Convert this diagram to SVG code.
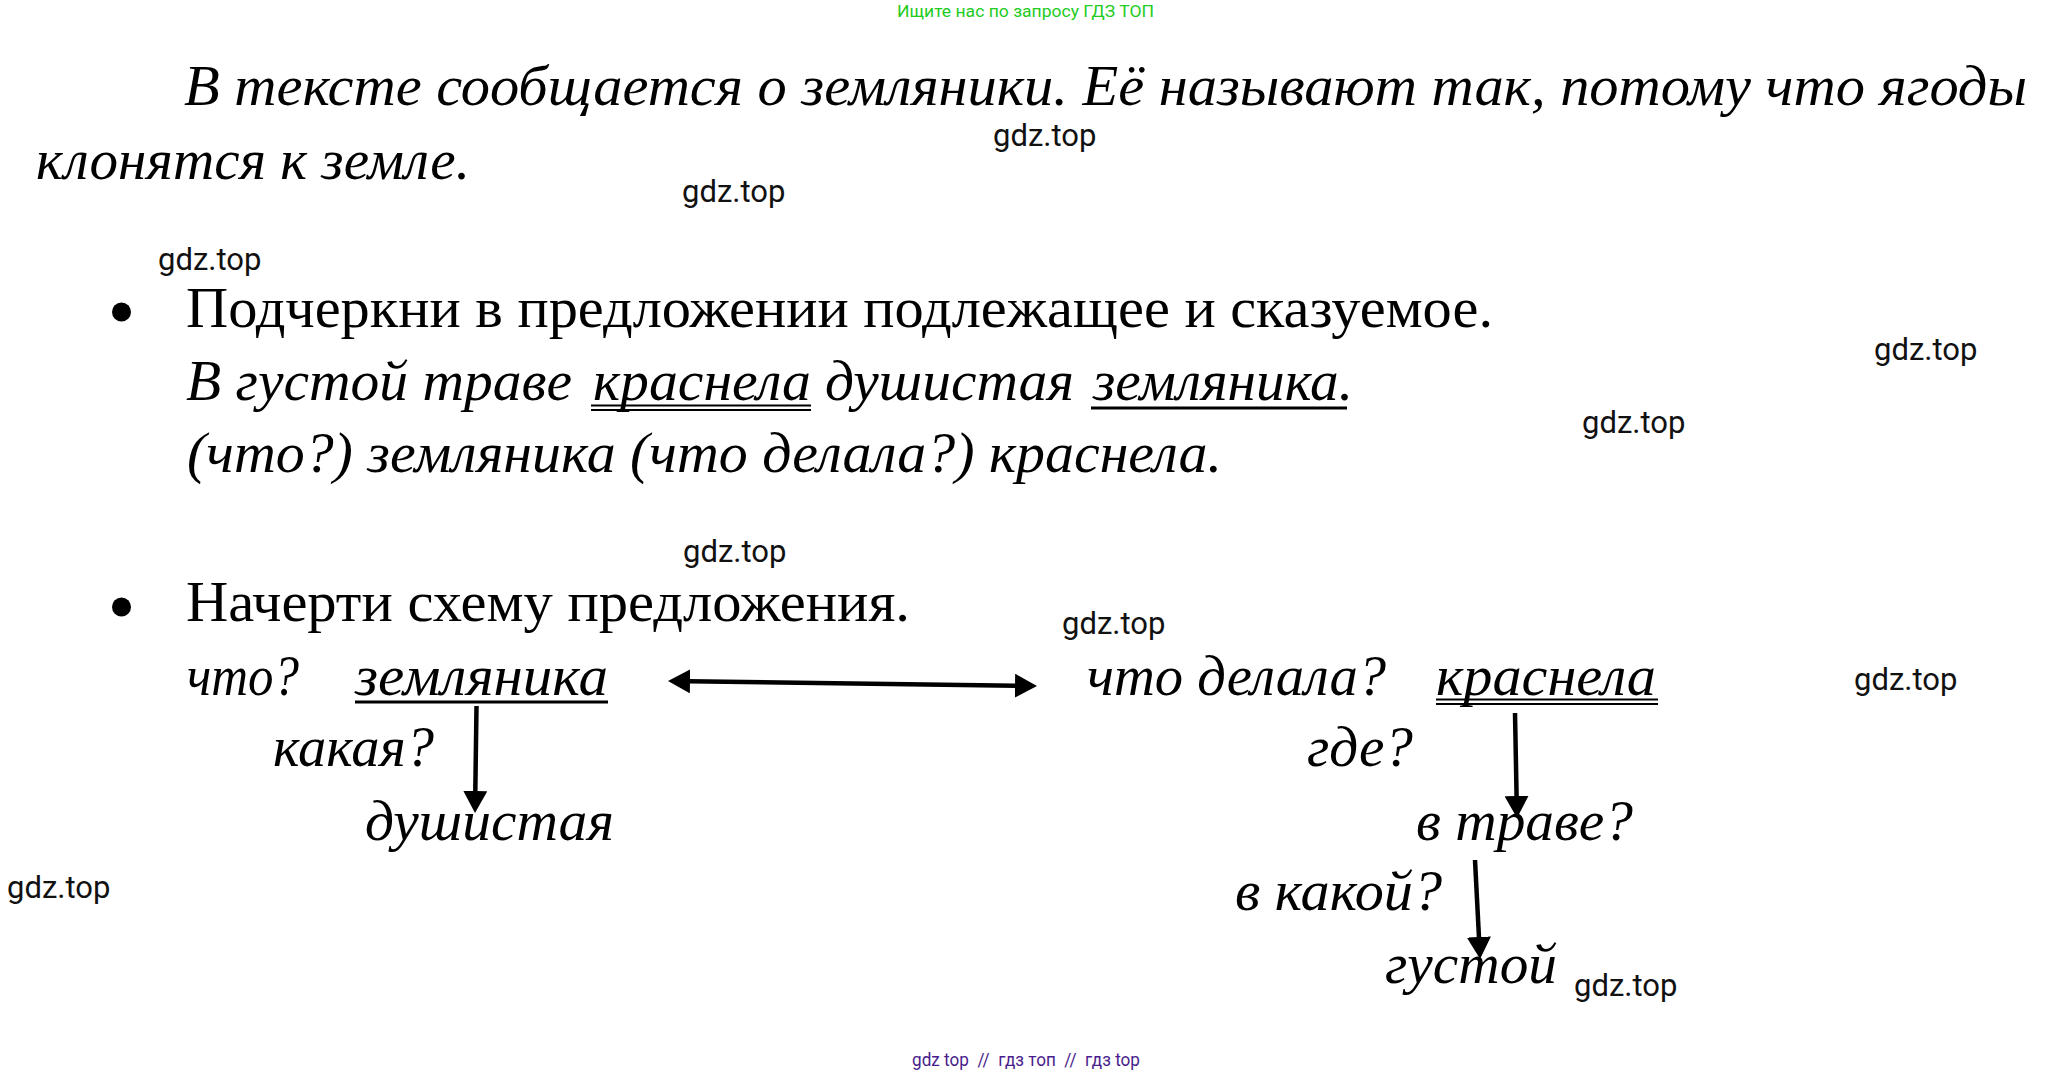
<svg xmlns="http://www.w3.org/2000/svg" width="2055" height="1075" viewBox="0 0 2055 1075">
<style>
.t{font-family:"Liberation Serif","Times New Roman",serif;font-size:57px;fill:#000}
.i{font-style:italic}
.r{font-size:58px}
.wm{font-family:Roboto,"Liberation Sans",Arial,sans-serif;font-size:31px;fill:#111}
.top{font-family:Roboto,"Liberation Sans",Arial,sans-serif;font-size:16.5px;fill:#22cc22}
.bot{font-family:Roboto,"Liberation Sans",Arial,sans-serif;font-size:18px;fill:#4a1d8c;white-space:pre}
.ul{stroke:#000;stroke-width:3;fill:none}
.ul2{stroke:#000;stroke-width:2;fill:none}
.conn{stroke:#000;stroke-width:4.5;fill:none;marker-end:url(#ah)}
</style>
<defs>
<marker id="ah" viewBox="0 0 22 24" markerWidth="22" markerHeight="24" markerUnits="userSpaceOnUse" refX="1" refY="12" orient="auto-start-reverse">
<path d="M0,0 L22,12 L0,24 z" fill="#000"/>
</marker>
</defs>
<rect width="2055" height="1075" fill="#fff"/>

<g id="header">
<text class="top" x="897" y="17" textLength="257" lengthAdjust="spacingAndGlyphs">Ищите нас по запросу ГДЗ ТОП</text>
</g>

<g id="paragraph">
<text class="t i" x="184" y="105" textLength="1843" lengthAdjust="spacingAndGlyphs">В тексте сообщается о земляники. Её называют так, потому что ягоды</text>
<text class="t i" x="36" y="179" textLength="434" lengthAdjust="spacingAndGlyphs">клонятся к земле.</text>
</g>

<g id="task1">
<circle cx="121.5" cy="312" r="9.5" fill="#000"/>
<text class="t r" x="186" y="327" textLength="1307" lengthAdjust="spacingAndGlyphs">Подчеркни в предложении подлежащее и сказуемое.</text>
</g>

<g id="sentence">
<text class="t i" x="186" y="400" textLength="386" lengthAdjust="spacingAndGlyphs">В густой траве</text>
<text class="t i" x="593" y="400" textLength="218" lengthAdjust="spacingAndGlyphs">краснела</text>
<text class="t i" x="825" y="400" textLength="249" lengthAdjust="spacingAndGlyphs">душистая</text>
<text class="t i" x="1093" y="400" textLength="260" lengthAdjust="spacingAndGlyphs">земляника.</text>
<line class="ul2" x1="591" y1="405.5" x2="811" y2="405.5"/>
<line class="ul2" x1="591" y1="410" x2="811" y2="410"/>
<line class="ul" x1="1091" y1="408" x2="1347" y2="408"/>
</g>

<g id="questions">
<text class="t i" x="187" y="472" textLength="1035" lengthAdjust="spacingAndGlyphs">(что?) земляника (что делала?) краснела.</text>
</g>

<g id="task2">
<circle cx="121.5" cy="607" r="9.5" fill="#000"/>
<text class="t r" x="186" y="621" textLength="724" lengthAdjust="spacingAndGlyphs">Начерти схему предложения.</text>
</g>

<g id="node-subject">
<text class="t i" x="187" y="695" textLength="112" lengthAdjust="spacingAndGlyphs">что?</text>
<text class="t i" x="355" y="695" textLength="253" lengthAdjust="spacingAndGlyphs">земляника</text>
<line class="ul" x1="355" y1="702" x2="608" y2="702"/>
</g>

<g id="node-q-kakaya">
<text class="t i" x="273" y="766" textLength="161" lengthAdjust="spacingAndGlyphs">какая?</text>
</g>

<g id="node-dushistaya">
<text class="t i" x="365" y="840" textLength="249" lengthAdjust="spacingAndGlyphs">душистая</text>
</g>

<g id="node-predicate">
<text class="t i" x="1087" y="695" textLength="299" lengthAdjust="spacingAndGlyphs">что делала?</text>
<text class="t i" x="1436" y="695" textLength="220" lengthAdjust="spacingAndGlyphs">краснела</text>
<line class="ul2" x1="1436" y1="699.5" x2="1658" y2="699.5"/>
<line class="ul2" x1="1436" y1="704" x2="1658" y2="704"/>
</g>

<g id="node-q-gde">
<text class="t i" x="1307" y="766" textLength="106" lengthAdjust="spacingAndGlyphs">где?</text>
</g>

<g id="node-v-trave">
<text class="t i" x="1416" y="840" textLength="217" lengthAdjust="spacingAndGlyphs">в траве?</text>
</g>

<g id="node-q-v-kakoy">
<text class="t i" x="1235" y="910" textLength="207" lengthAdjust="spacingAndGlyphs">в какой?</text>
</g>

<g id="node-gustoy">
<text class="t i" x="1385" y="983" textLength="172" lengthAdjust="spacingAndGlyphs">густой</text>
</g>

<g id="connectors">
<line class="conn" x1="689" y1="681.3" x2="1016" y2="685.7" style="marker-start:url(#ah)"/>
<line class="conn" x1="476.5" y1="706" x2="475.3" y2="792"/>
<line class="conn" x1="1515" y1="713" x2="1516.6" y2="797"/>
<line class="conn" x1="1475" y1="860" x2="1479" y2="938"/>
</g>

<g id="watermarks">
<text class="wm" x="993" y="146">gdz.top</text>
<text class="wm" x="682" y="202">gdz.top</text>
<text class="wm" x="158" y="270">gdz.top</text>
<text class="wm" x="1874" y="360">gdz.top</text>
<text class="wm" x="1582" y="433">gdz.top</text>
<text class="wm" x="683" y="562">gdz.top</text>
<text class="wm" x="1062" y="634">gdz.top</text>
<text class="wm" x="1854" y="690">gdz.top</text>
<text class="wm" x="7" y="898">gdz.top</text>
<text class="wm" x="1574" y="996">gdz.top</text>
</g>

<g id="footer">
<text class="bot" x="912" y="1066" textLength="228" lengthAdjust="spacingAndGlyphs">gdz top  //  гдз топ  //  гдз top</text>
</g>
</svg>
